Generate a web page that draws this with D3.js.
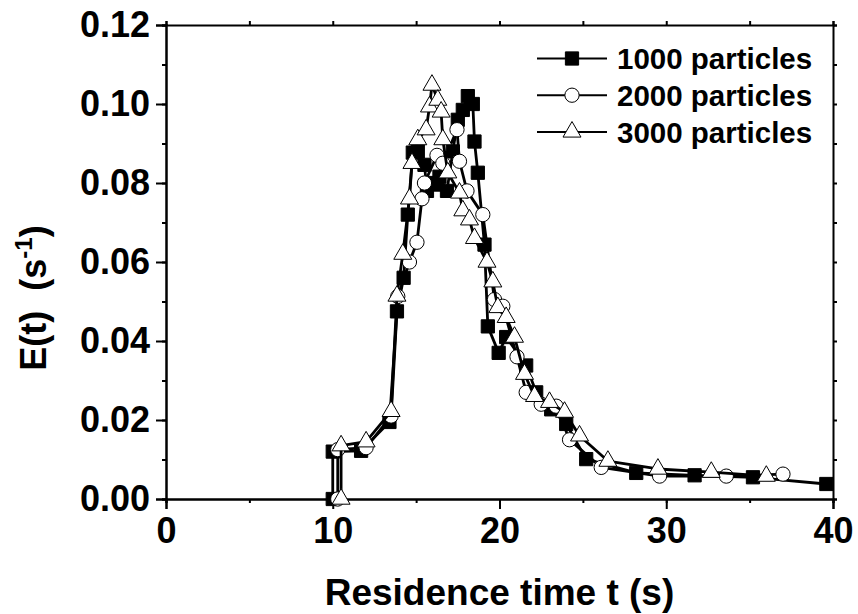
<!DOCTYPE html>
<html>
<head>
<meta charset="utf-8">
<script src="https://cdn.jsdelivr.net/npm/d3@7"></script>
<style>
    body { margin: 0; background: #fff; }
    svg text { font-family: "Liberation Sans", Arial, sans-serif; font-weight: bold; fill: #000; }
</style>
</head>
<body>
<div id="chart"></div>
<script>
// Residence time distribution
var t1000 = [10.0, 10.0, 11.7, 13.4, 13.85, 14.25, 14.5, 14.8, 15.1, 15.5, 15.65, 16.0, 16.25, 16.4, 16.85, 17.2, 17.5, 17.8, 18.1, 18.4, 18.5, 18.7, 19.1, 19.3, 19.95, 20.4, 21.6, 22.2, 23.1, 24.0, 25.2, 28.2, 31.7, 35.2, 39.6];
var e1000 = [0, 0.012, 0.0122, 0.0195, 0.0475, 0.056, 0.072, 0.0877, 0.088, 0.0846, 0.078, 0.080, 0.0796, 0.0816, 0.078, 0.088, 0.096, 0.0985, 0.102, 0.100, 0.0905, 0.0826, 0.0644, 0.0437, 0.037, 0.041, 0.0338, 0.027, 0.0227, 0.019, 0.0101, 0.0066, 0.006, 0.0055, 0.0038];

var t2000 = [10.3, 10.3, 12.0, 13.5, 13.9, 14.6, 15.05, 15.35, 15.5, 16.25, 16.6, 17.45, 17.6, 18.05, 19.0, 19.7, 20.2, 21.05, 21.6, 22.5, 23.4, 24.2, 26.1, 29.6, 33.6, 37.0];
var e2000 = [0, 0.0125, 0.013, 0.021, 0.0513, 0.060, 0.065, 0.076, 0.080, 0.087, 0.085, 0.0935, 0.0855, 0.078, 0.072, 0.0505, 0.0488, 0.036, 0.027, 0.024, 0.0235, 0.015, 0.008, 0.0058, 0.0058, 0.0063];

var t3000 = [10.5, 10.5, 12.0, 13.5, 13.85, 14.2, 14.6, 14.75, 15.1, 15.6, 15.8, 15.95, 16.3, 16.5, 16.6, 16.9, 17.6, 17.8, 18.2, 18.5, 19.25, 19.6, 19.9, 20.4, 20.9, 21.5, 22.1, 23.0, 23.9, 24.8, 26.5, 29.5, 32.7, 36.0];
var e3000 = [0, 0.0135, 0.0145, 0.0222, 0.0514, 0.062, 0.076, 0.085, 0.091, 0.0935, 0.0993, 0.1048, 0.101, 0.098, 0.091, 0.0826, 0.0775, 0.073, 0.0707, 0.066, 0.060, 0.055, 0.0485, 0.046, 0.041, 0.0316, 0.026, 0.0245, 0.022, 0.016, 0.0096, 0.0076, 0.0068, 0.0058];

var seriesNames = ["1000 particles", "2000 particles", "3000 particles"];
var xTickValues = [0, 10, 20, 30, 40];
var yTickValues = [0, 0.02, 0.04, 0.06, 0.08, 0.10, 0.12];

var width = 858, height = 614;
var margin = {top: 25, right: 25, bottom: 115, left: 166};

var svg = d3.select("#chart").append("svg")
    .attr("width", width)
    .attr("height", height);

var xScale = d3.scaleLinear().domain([0, 40]).range([margin.left, width - margin.right]);
var yScale = d3.scaleLinear().domain([0, 0.12]).range([height - margin.bottom, margin.top]);

var series = [
    {name: seriesNames[0], t: t1000, e: e1000, marker: "square"},
    {name: seriesNames[1], t: t2000, e: e2000, marker: "circle"},
    {name: seriesNames[2], t: t3000, e: e3000, marker: "triangle"}
];

// axes: major ticks outward, minor ticks in between
var xMinor = d3.range(0, 40.01, 5);
var yMinor = d3.range(0, 0.1201, 0.01);

function styleAxis(g) {
    g.selectAll(".domain").attr("stroke", "#000").attr("stroke-width", 2);
    g.selectAll(".tick line").attr("stroke", "#000").attr("stroke-width", 2);
}

svg.append("g")
    .attr("transform", "translate(0," + yScale(0) + ")")
    .call(d3.axisBottom(xScale).tickValues(xMinor).tickSize(4).tickFormat(""))
    .call(styleAxis);
svg.append("g")
    .attr("class", "x-axis")
    .attr("transform", "translate(0," + yScale(0) + ")")
    .call(d3.axisBottom(xScale).tickValues(xTickValues).tickSize(10).tickPadding(8).tickFormat(d3.format("d")))
    .call(styleAxis)
    .selectAll("text").style("font-size", "36px");

svg.append("g")
    .attr("transform", "translate(" + xScale(0) + ",0)")
    .call(d3.axisLeft(yScale).tickValues(yMinor).tickSize(4).tickFormat(""))
    .call(styleAxis);
svg.append("g")
    .attr("class", "y-axis")
    .attr("transform", "translate(" + xScale(0) + ",0)")
    .call(d3.axisLeft(yScale).tickValues(yTickValues).tickSize(10).tickPadding(6).tickFormat(d3.format(".2f")))
    .call(styleAxis)
    .selectAll("text").style("font-size", "36px");

svg.append("g")
    .attr("transform", "translate(0," + yScale(0.12) + ")")
    .call(d3.axisTop(xScale).tickValues(xMinor).tickSize(4).tickFormat(""))
    .call(styleAxis);
svg.append("g")
    .attr("transform", "translate(" + xScale(40) + ",0)")
    .call(d3.axisRight(yScale).tickValues(yMinor).tickSize(4).tickFormat(""))
    .call(styleAxis);

// axis titles
svg.append("text")
    .attr("x", (xScale(0) + xScale(40)) / 2)
    .attr("y", 605)
    .attr("text-anchor", "middle")
    .style("font-size", "37px")
    .text("Residence time t (s)");

var yTitle = svg.append("text")
    .attr("transform", "translate(46,298) rotate(-90)")
    .attr("text-anchor", "middle")
    .style("font-size", "36px");
yTitle.append("tspan").text("E(t)\u00a0\u00a0(s");
yTitle.append("tspan").attr("dy", -14).style("font-size", "24px").text("-1");
yTitle.append("tspan").attr("dy", 14).text(")");

// marker shapes
var symbolFor = {
    square: d3.symbol().type(d3.symbolSquare).size(175),
    circle: d3.symbol().type(d3.symbolCircle).size(160),
    triangle: d3.symbol().type(d3.symbolTriangle).size(140)
};
var fillFor = {square: "#000", circle: "#fff", triangle: "#fff"};

var line = d3.line()
    .x(function (d) { return xScale(d[0]); })
    .y(function (d) { return yScale(d[1]); });

series.forEach(function (s) {
    var pts = s.t.map(function (t, i) { return [t, s.e[i]]; });
    var g = svg.append("g").attr("class", "series");
    g.append("path")
        .datum(pts)
        .attr("d", line)
        .attr("fill", "none")
        .attr("stroke", "#000")
        .attr("stroke-width", 2.8)
        .attr("stroke-linejoin", "round");
    g.selectAll("path.marker")
        .data(pts)
        .enter().append("path")
        .attr("class", "marker")
        .attr("d", symbolFor[s.marker])
        .attr("transform", function (d) {
            return "translate(" + xScale(d[0]) + "," + yScale(d[1]) + ")";
        })
        .attr("fill", fillFor[s.marker])
        .attr("stroke", "#000")
        .attr("stroke-width", 1);
});

// legend
var legend = svg.append("g").attr("class", "legend");
series.forEach(function (s, i) {
    var y = 58.5 + i * 36.7;
    legend.append("line")
        .attr("x1", 537).attr("x2", 607)
        .attr("y1", y).attr("y2", y)
        .attr("stroke", "#000").attr("stroke-width", 2);
    legend.append("path")
        .attr("d", symbolFor[s.marker])
        .attr("transform", "translate(572," + y + ")")
        .attr("fill", fillFor[s.marker])
        .attr("stroke", "#000")
        .attr("stroke-width", 1);
    legend.append("text")
        .attr("x", 617)
        .attr("y", y)
        .attr("dy", "0.36em")
        .style("font-size", "29.5px")
        .text(s.name);
});
</script>
</body>
</html>
